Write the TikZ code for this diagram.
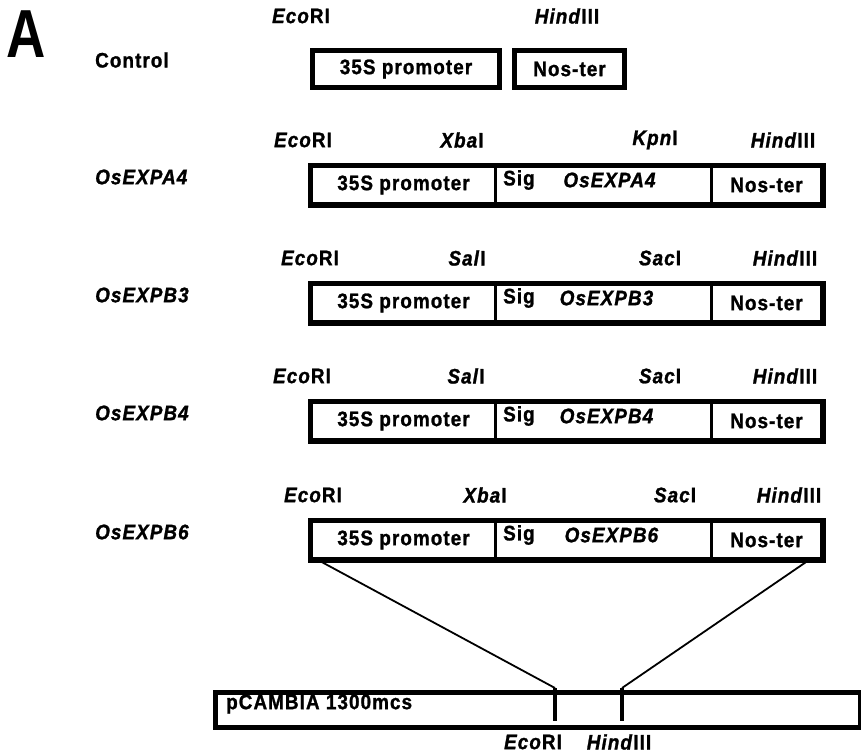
\documentclass[tikz,border=0pt]{standalone}
\usepackage{fontspec}
\setmainfont[LetterSpace=5, FakeStretch=0.9,
  BoldFeatures={FakeBold=1.2}, BoldItalicFeatures={FakeBold=1.2}]{Liberation Sans}
\newfontfamily\panelfont[FakeStretch=0.8]{Liberation Sans}
\usetikzlibrary{positioning}

\begin{document}
\begin{tikzpicture}[x=1pt, y=-1pt,
    segbox/.style={draw, line width=3pt, minimum height=37pt, inner sep=0pt, anchor=north west, font=\fontsize{21}{21}\selectfont\bfseries},
    outline/.style={draw, line width=5pt},
    enz/.style={font=\fontsize{21}{21}\selectfont\bfseries, inner sep=0pt},
    rowlbl/.style={font=\fontsize{21}{21}\selectfont\bfseries, anchor=west, inner sep=0pt},
    seglbl/.style={font=\fontsize{21}{21}\selectfont\bfseries, inner sep=0pt},
    link/.style={draw, line width=1.8pt}
]
    \useasboundingbox (0,0) rectangle (861,755);
    \node[font=\panelfont\fontsize{68}{68}\selectfont\bfseries, inner sep=0pt] (panel) at (26,34) {A};

    % control
    \node[rowlbl] (ctl) at (95,60) {Control};
    \node[enz] (ctle) at (301,16) {\textit{Eco}RI};
    \node[enz] (ctlh) at (567,16) {\textit{Hind}III};
    \node[segbox, minimum width=187pt, line width=5pt] (ctlpro) at (310,48) {35S promoter};
    \node[segbox, minimum width=110pt, line width=5pt] (ctlnos) at (512,48) {Nos-ter};

    % OsEXPA4
    \node[rowlbl] (a4) at (95,177) {\textit{OsEXPA4}};
    \node[enz] (a4e) at (303,140) {\textit{Eco}RI};
    \node[enz] (a4x) at (462,140) {\textit{Xba}I};
    \node[enz] (a4k) at (655,140) {\textit{Kpn}I};
    \node[enz] (a4h) at (783,140) {\textit{Hind}III};
    \node[segbox, minimum width=184pt] (a4pro) at (310,165) {35S promoter};
    \node[segbox, minimum width=216pt] (a4sig) at (494,165) {};
    \node[segbox, minimum width=110pt] (a4nos) at (710,165) {Nos-ter};
    \node[seglbl, anchor=west] (a4s) at (503,180) {Sig};
    \node[seglbl] (a4g) at (610,180) {\textit{OsEXPA4}};
    \draw[outline] (a4pro.north west) rectangle (a4nos.south east);

    % OsEXPB3
    \node[rowlbl] (b3) at (95,295) {\textit{OsEXPB3}};
    \node[enz] (b3e) at (310,258) {\textit{Eco}RI};
    \node[enz] (b3s) at (467,258) {\textit{Sal}I};
    \node[enz] (b3c) at (660,258) {\textit{Sac}I};
    \node[enz] (b3h) at (785,258) {\textit{Hind}III};
    \node[segbox, minimum width=184pt] (b3pro) at (310,283) {35S promoter};
    \node[segbox, minimum width=216pt] (b3sig) at (494,283) {};
    \node[segbox, minimum width=110pt] (b3nos) at (710,283) {Nos-ter};
    \node[seglbl, anchor=west] (b3t) at (503,298) {Sig};
    \node[seglbl] (b3g) at (607,298) {\textit{OsEXPB3}};
    \draw[outline] (b3pro.north west) rectangle (b3nos.south east);

    % OsEXPB4
    \node[rowlbl] (b4) at (95,413) {\textit{OsEXPB4}};
    \node[enz] (b4e) at (302,376) {\textit{Eco}RI};
    \node[enz] (b4s) at (466,376) {\textit{Sal}I};
    \node[enz] (b4c) at (660,376) {\textit{Sac}I};
    \node[enz] (b4h) at (785,376) {\textit{Hind}III};
    \node[segbox, minimum width=184pt] (b4pro) at (310,401) {35S promoter};
    \node[segbox, minimum width=216pt] (b4sig) at (494,401) {};
    \node[segbox, minimum width=110pt] (b4nos) at (710,401) {Nos-ter};
    \node[seglbl, anchor=west] (b4t) at (503,416) {Sig};
    \node[seglbl] (b4g) at (607,416) {\textit{OsEXPB4}};
    \draw[outline] (b4pro.north west) rectangle (b4nos.south east);

    % OsEXPB6
    \node[rowlbl] (b6) at (95,532) {\textit{OsEXPB6}};
    \node[enz] (b6e) at (313,495) {\textit{Eco}RI};
    \node[enz] (b6x) at (485,495) {\textit{Xba}I};
    \node[enz] (b6c) at (675,495) {\textit{Sac}I};
    \node[enz] (b6h) at (789,495) {\textit{Hind}III};
    \node[segbox, minimum width=184pt] (b6pro) at (310,520) {35S promoter};
    \node[segbox, minimum width=216pt] (b6sig) at (494,520) {};
    \node[segbox, minimum width=110pt] (b6nos) at (710,520) {Nos-ter};
    \node[seglbl, anchor=west] (b6t) at (503,535) {Sig};
    \node[seglbl] (b6g) at (612,535) {\textit{OsEXPB6}};
    \draw[outline] (b6pro.north west) rectangle (b6nos.south east);

    % vector
    \node[segbox, minimum width=645pt, minimum height=35pt, line width=5pt] (vec) at (213,690) {};
    \node[seglbl, anchor=west] (vecl) at (226,704) {pCAMBIA 1300mcs};
    \coordinate (site1) at (555,688);
    \coordinate (site2) at (622,688);
    \draw[line width=4.5pt] (site1) -- (555,721);
    \draw[line width=4.5pt] (site2) -- (622,721);
    \node[enz] (vece) at (533,742) {\textit{Eco}RI};
    \node[enz] (vech) at (619,742) {\textit{Hind}III};

    \draw[link] ([xshift=8pt]b6pro.south west) -- (site1);
    \draw[link] ([xshift=-14pt]b6nos.south east) -- (site2);
\end{tikzpicture}
\end{document}
